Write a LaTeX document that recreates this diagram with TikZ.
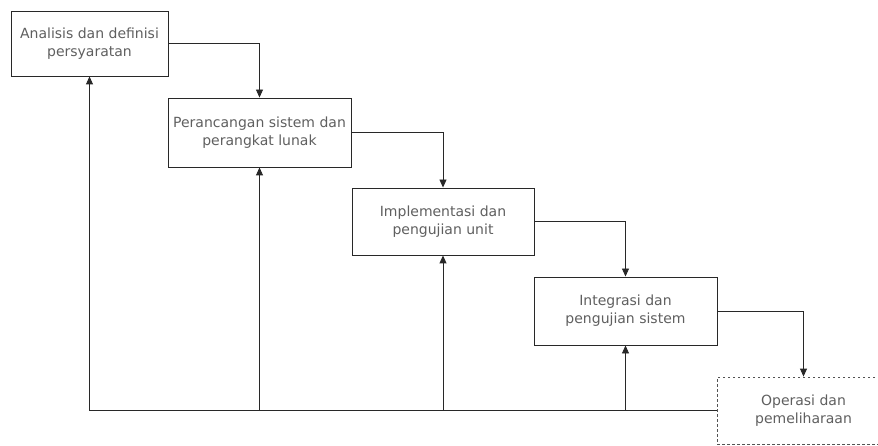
\documentclass[tikz,border=0pt]{standalone}
\usepackage{fontspec}
\setmainfont{DejaVu Sans}
\usepackage{xcolor}
\definecolor{boxline}{RGB}{40,40,40}
\definecolor{boxtext}{RGB}{95,95,95}
\usepackage{tikz}
\usetikzlibrary{arrows.meta}
\newcommand{\phasefont}{\fontsize{14}{18}\selectfont}
\tikzset{
    common/.style={draw=boxline, rectangle, line width=0.9pt, align=center, text=boxtext, font=\phasefont, inner sep=0pt},
    phase/.style={common, minimum height=67pt},
    lastphase/.style={phase, draw=boxline!80, line width=0.8pt, dash pattern=on 2.5pt off 2.5pt},
    flow/.style={draw=boxline, line width=0.9pt, -{Triangle[length=8pt, width=7pt]}},
    feedback/.style={draw=boxline, line width=0.9pt}
}
\begin{document}
\begin{tikzpicture}[x=1pt, y=-1pt]
  \useasboundingbox (0,0) rectangle (878,446);
  \clip (0,0) rectangle (878,446);

  \node[phase, minimum width=157pt, minimum height=65pt] (analysis) at (89.5,43.5) {Analisis dan definisi\\persyaratan};
  \node[phase, minimum width=183pt, minimum height=69pt] (design) at (259.5,132.5) {Perancangan sistem dan\\perangkat lunak};
  \node[phase, minimum width=182pt] (impl) at (443,221.5) {Implementasi dan\\pengujian unit};
  \node[phase, minimum width=183pt, minimum height=68pt] (integ) at (625.5,311) {Integrasi dan\\pengujian sistem};
  \node[lastphase, minimum width=173pt] (ops) at (803.5,410.5) {Operasi dan\\pemeliharaan};

  % turun ke tahap berikutnya
  \draw[flow] (analysis.east) -| (design.north);
  \draw[flow] (design.east) -| (impl.north);
  \draw[flow] (impl.east) -| (integ.north);
  \draw[flow] (integ.east) -| (ops.north);

  % umpan balik
  \draw[feedback] (ops.west) -- (ops.west -| analysis.south);
  \draw[flow] (ops.west -| analysis.south) -- (analysis.south);
  \draw[flow] (ops.west -| design.south) -- (design.south);
  \draw[flow] (ops.west -| impl.south) -- (impl.south);
  \draw[flow] (ops.west -| integ.south) -- (integ.south);
\end{tikzpicture}
\end{document}
